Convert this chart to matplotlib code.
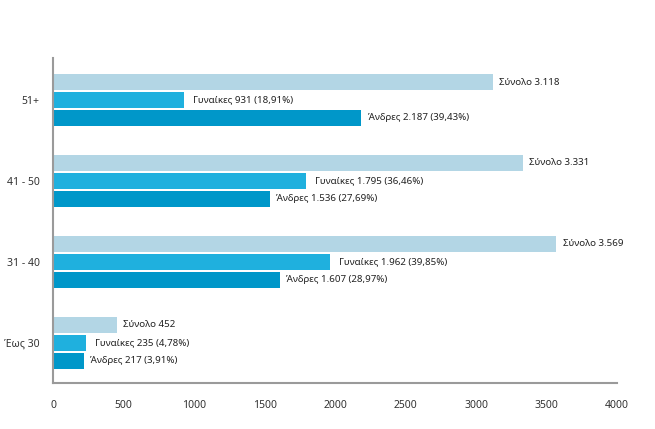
import matplotlib
matplotlib.use("Agg")
import matplotlib.pyplot as plt
import numpy as np

plt.rcParams['font.family'] = ['Noto Sans', 'DejaVu Sans']

groups = ['Έως 30', '31 - 40', '41 - 50', '51+']
total = [452, 3569, 3331, 3118]
women = [235, 1962, 1795, 931]
men = [217, 1607, 1536, 2187]
women_pct = ['4,78%', '39,85%', '36,46%', '18,91%']
men_pct = ['3,91%', '28,97%', '27,69%', '39,43%']


def fmt(v):
    return f"{v:,}".replace(',', '.')


fig = plt.figure(figsize=(6.55, 4.29), dpi=100)
ax = fig.add_axes([0.081, 0.107, 0.861, 0.758])

y = np.arange(len(groups))
h = 0.2
off = 0.222
c_tot, c_w, c_m = '#b3d6e5', '#1fb0de', '#0097c9'

ax.barh(y + off, total, height=h, color=c_tot)
ax.barh(y, women, height=h, color=c_w)
ax.barh(y - off, men, height=h, color=c_m)

fs = 7
for i in range(len(groups)):
    ax.text(total[i] + 45, y[i] + off, f"Σύνολο {fmt(total[i])}", va='center', fontsize=fs, color='#222222')
    ax.text(women[i] + 65, y[i], f"Γυναίκες {fmt(women[i])} ({women_pct[i]})", va='center', fontsize=fs, color='#222222')
    ax.text(men[i] + 45, y[i] - off, f"Άνδρες {fmt(men[i])} ({men_pct[i]})", va='center', fontsize=fs, color='#222222')

ax.set_xlim(0, 4000)
ax.set_ylim(-0.5, 3.52)
ax.set_xticks(range(0, 4001, 500))
ax.set_yticks(y)
ax.set_yticklabels(groups)
ax.tick_params(axis='both', length=0, labelsize=7.5, colors='#333333')
ax.tick_params(axis='x', pad=12)
ax.tick_params(axis='y', pad=9.5)

for s in ['top', 'right']:
    ax.spines[s].set_visible(False)
for s in ['left', 'bottom']:
    ax.spines[s].set_color('#9a9a9a')
    ax.spines[s].set_linewidth(1.5)

fig.savefig('out.png', dpi=100)
